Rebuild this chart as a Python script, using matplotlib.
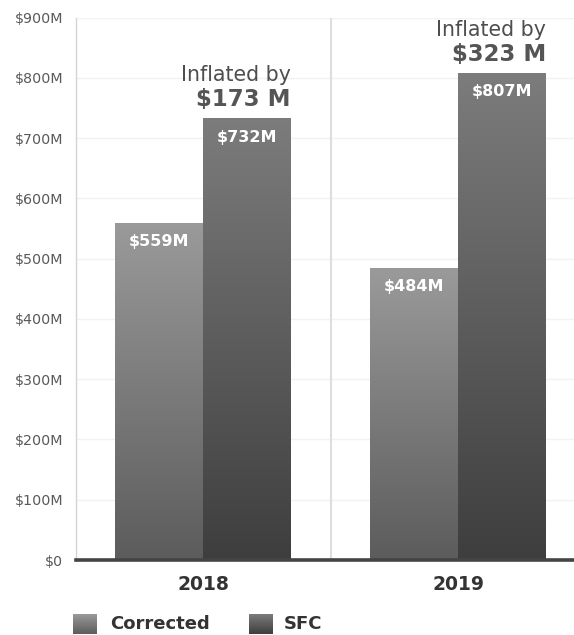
import matplotlib.pyplot as plt
import numpy as np
from matplotlib.colors import LinearSegmentedColormap
from matplotlib.ticker import FuncFormatter

years = ["2018", "2019"]
corrected = [559, 484]
sfc = [732, 807]
inflated = [173, 323]
series_names = ["Corrected", "SFC"]

# top -> bottom shades for each series
shades = {
    "Corrected": ("#9a9a9a", "#5c5c5c"),
    "SFC": ("#7c7c7c", "#3e3e3e"),
}

W, H = 574, 635
fig = plt.figure(figsize=(W / 100, H / 100), dpi=100)
ax = fig.add_axes([75.5 / W, (H - 560) / H, (W - 75.5) / W, (560 - 17.5) / H])

bar_w = 0.345
grad = np.linspace(1, 0, 256).reshape(-1, 1)


def gradient_bar(x_left, height, name):
    top, bottom = shades[name]
    cmap = LinearSegmentedColormap.from_list(name, [bottom, top])
    ax.imshow(grad, cmap=cmap, aspect="auto", interpolation="bicubic",
              extent=[x_left, x_left + bar_w, 0, height], zorder=2)


x = np.arange(len(years))
for i in x:
    gradient_bar(i - bar_w, corrected[i], "Corrected")
    gradient_bar(i, sfc[i], "SFC")

    for xc, v in [(i - bar_w / 2, corrected[i]), (i + bar_w / 2, sfc[i])]:
        ax.annotate(f"${v}M", xy=(xc, v), xytext=(0, -16.5),
                    textcoords="offset points", ha="center", va="baseline",
                    color="white", fontsize=11.5, fontweight="bold", zorder=4)

    right = i + bar_w
    ax.annotate(f"${inflated[i]} M", xy=(right, sfc[i]), xytext=(0, 9.4),
                textcoords="offset points", ha="right", va="baseline",
                color="#555555", fontsize=16.5, fontweight="bold")
    ax.annotate("Inflated by", xy=(right, sfc[i]), xytext=(0, 27.4),
                textcoords="offset points", ha="right", va="baseline",
                color="#4e4e4e", fontsize=14.8)

ax.set_xlim(-0.5, (574 - 203) / 255)
ax.set_ylim(0, 900)
ax.set_yticks(range(0, 901, 100))
ax.yaxis.set_major_formatter(FuncFormatter(lambda v, p: "$0" if v == 0 else f"${int(v)}M"))
ax.set_xticks(x)
ax.set_xticklabels(years)

ax.grid(axis="y", color="#f2f2f2", linewidth=1, zorder=0)
ax.set_axisbelow(True)
ax.axvline(0.5, color="#dedede", linewidth=1.5, zorder=1)
ax.axhline(0, color="#444444", linewidth=2.6, zorder=5, clip_on=False)

for s in ["top", "right", "bottom"]:
    ax.spines[s].set_visible(False)
ax.spines["left"].set_color("#d4d4d4")
ax.spines["left"].set_linewidth(1.0)

ax.tick_params(axis="y", length=0, pad=9, labelsize=10.3, labelcolor="#5a5a5a")
ax.tick_params(axis="x", length=0, pad=11, labelsize=13.5, labelcolor="#333333")
for lab in ax.get_xticklabels():
    lab.set_fontweight("bold")

# legend with gradient swatches
legend_items = [(73, 110, "Corrected"), (249, 284, "SFC")]
for sx, tx, name in legend_items:
    sw = fig.add_axes([sx / W, (H - 634) / H, 24 / W, 20 / H])
    top, bottom = shades[name]
    cmap = LinearSegmentedColormap.from_list(name + "_sw", [bottom, top])
    sw.imshow(grad, cmap=cmap, aspect="auto", interpolation="bicubic")
    sw.set_axis_off()
    fig.text(tx / W, (H - 624) / H, name, ha="left", va="center",
             fontsize=13, fontweight="bold", color="#333333")

fig.savefig("out.png", dpi=100)
